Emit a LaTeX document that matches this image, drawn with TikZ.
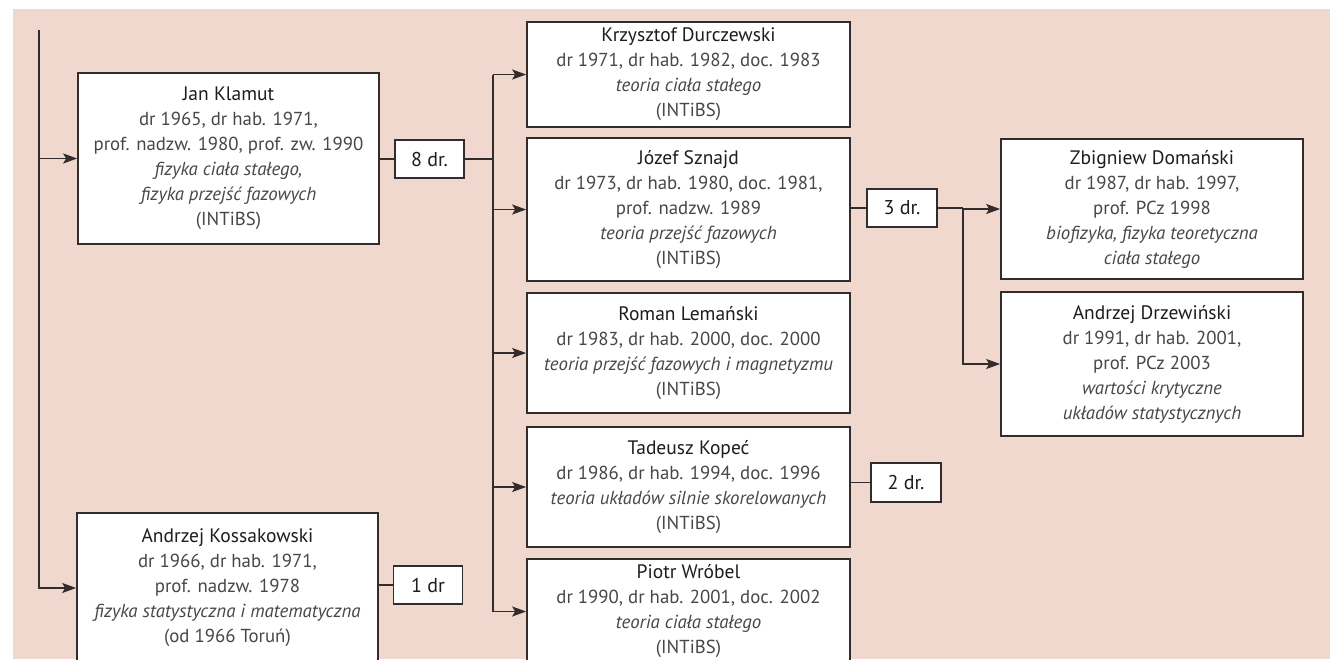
\documentclass[tikz,border=0pt]{standalone}
\usepackage{fontspec}
\setmainfont{PT Sans}
\usetikzlibrary{arrows.meta}
\definecolor{bg}{RGB}{240,216,206}
\definecolor{ln}{RGB}{50,44,44}
\definecolor{tx}{RGB}{72,70,70}
\definecolor{nmc}{RGB}{30,28,28}
\newcommand\nm[1]{{\color{nmc}\fontsize{19.5}{25}\selectfont#1}}
\begin{document}
\begin{tikzpicture}[x=1pt,y=-1pt,
  box/.style={draw=ln, line width=1.7pt, fill=white, align=center, inner sep=0pt,
    font=\fontsize{18.8}{25}\selectfont, text=tx},
  cnt/.style={draw=ln, line width=1.7pt, fill=white, inner sep=0pt,
    font=\fontsize{20}{24}\selectfont, text=nmc, minimum height=38, minimum width=69},
  conn/.style={draw=ln, line width=1.6pt},
  arr/.style={conn, -{Stealth[length=14pt,width=10pt,inset=3pt]}}]
\useasboundingbox (0,0) rectangle (1330,659);
\clip (0,0) rectangle (1330,659);
\fill[bg] (13,9) rectangle (1330,659);

% boxes
\node[box, minimum width=301, minimum height=171] (klamut) at (228.5,158.5)
  {\nm{Jan Klamut}\\dr 1965, dr hab. 1971,\\prof. nadzw. 1980, prof. zw. 1990\\\textit{fizyka ciała stałego,}\\\textit{fizyka przejść fazowych}\\(INTiBS)};
\node[box, minimum width=301, minimum height=150] (kossak) at (227.5,588)
  {\nm{Andrzej Kossakowski}\\dr 1966, dr hab. 1971,\\prof. nadzw. 1978\\\textit{fizyka statystyczna i matematyczna}\\(od 1966 Toruń)};
\node[cnt] (eight) at (429.5,159) {8 dr.};
\node[cnt] (one) at (428,585) {1 dr};

\node[box, minimum width=323, minimum height=105] (durcz) at (688.5,74.5)
  {\nm{Krzysztof Durczewski}\\dr 1971, dr hab. 1982, doc. 1983\\\textit{teoria ciała stałego}\\(INTiBS)};
\node[box, minimum width=323, minimum height=143] (sznajd) at (688.5,209.5)
  {\nm{Józef Sznajd}\\dr 1973, dr hab. 1980, doc. 1981,\\prof. nadzw. 1989\\\textit{teoria przejść fazowych}\\(INTiBS)};
\node[box, minimum width=323, minimum height=120] (lem) at (688.5,353)
  {\nm{Roman Lemański}\\dr 1983, dr hab. 2000, doc. 2000\\\textit{teoria przejść fazowych i magnetyzmu}\\(INTiBS)};
\node[box, minimum width=323, minimum height=120] (kopec) at (688.5,487)
  {\nm{Tadeusz Kopeć}\\dr 1986, dr hab. 1994, doc. 1996\\\textit{teoria układów silnie skorelowanych}\\(INTiBS)};
\node[box, minimum width=323, minimum height=105] (wrobel) at (688.5,611.5)
  {\nm{Piotr Wróbel}\\dr 1990, dr hab. 2001, doc. 2002\\\textit{teoria ciała stałego}\\(INTiBS)};

\node[cnt, minimum width=70] (three) at (902,208) {3 dr.};
\node[cnt, minimum width=70, minimum height=39] (two) at (906,482.5) {2 dr.};

\node[box, minimum width=302, minimum height=140] (doman) at (1152,209)
  {\nm{Zbigniew Domański}\\dr 1987, dr hab. 1997,\\prof. PCz 1998\\\textit{biofizyka, fizyka teoretyczna}\\\textit{ciała stałego}};
\node[box, minimum width=302, minimum height=144] (drzew) at (1152,364)
  {\nm{Andrzej Drzewiński}\\dr 1991, dr hab. 2001,\\prof. PCz 2003\\\textit{wartości krytyczne}\\\textit{układów statystycznych}};

% connectors
\coordinate (trunk) at (39,30);
\coordinate (busA) at (493,0);
\coordinate (busB) at (963,0);

\draw[arr] (trunk) |- (kossak.west);
\draw[arr] (trunk |- klamut.west) -- (klamut.west);

\draw[conn] (eight.west -| klamut.east) -- (eight.west);
\draw[conn] (eight.east) -- (eight.east -| busA);
\draw[conn] (busA |- durcz.west) -- (busA |- wrobel.west);
\draw[arr] (busA |- durcz.west) -- (durcz.west);
\draw[arr] (busA |- sznajd.west) -- (sznajd.west);
\draw[arr] (busA |- lem.west) -- (lem.west);
\draw[arr] (busA |- kopec.west) -- (kopec.west);
\draw[arr] (busA |- wrobel.west) -- (wrobel.west);

\draw[conn] (one.west -| kossak.east) -- (one.west);

\draw[conn] (three.west -| sznajd.east) -- (three.west);
\draw[conn] (three.east) -- (three.east -| busB);
\draw[arr] (busB |- doman.west) -- (doman.west);
\draw[arr] (busB |- doman.west) |- (drzew.west);

\draw[conn] (two.west -| kopec.east) -- (two.west);
\end{tikzpicture}
\end{document}
